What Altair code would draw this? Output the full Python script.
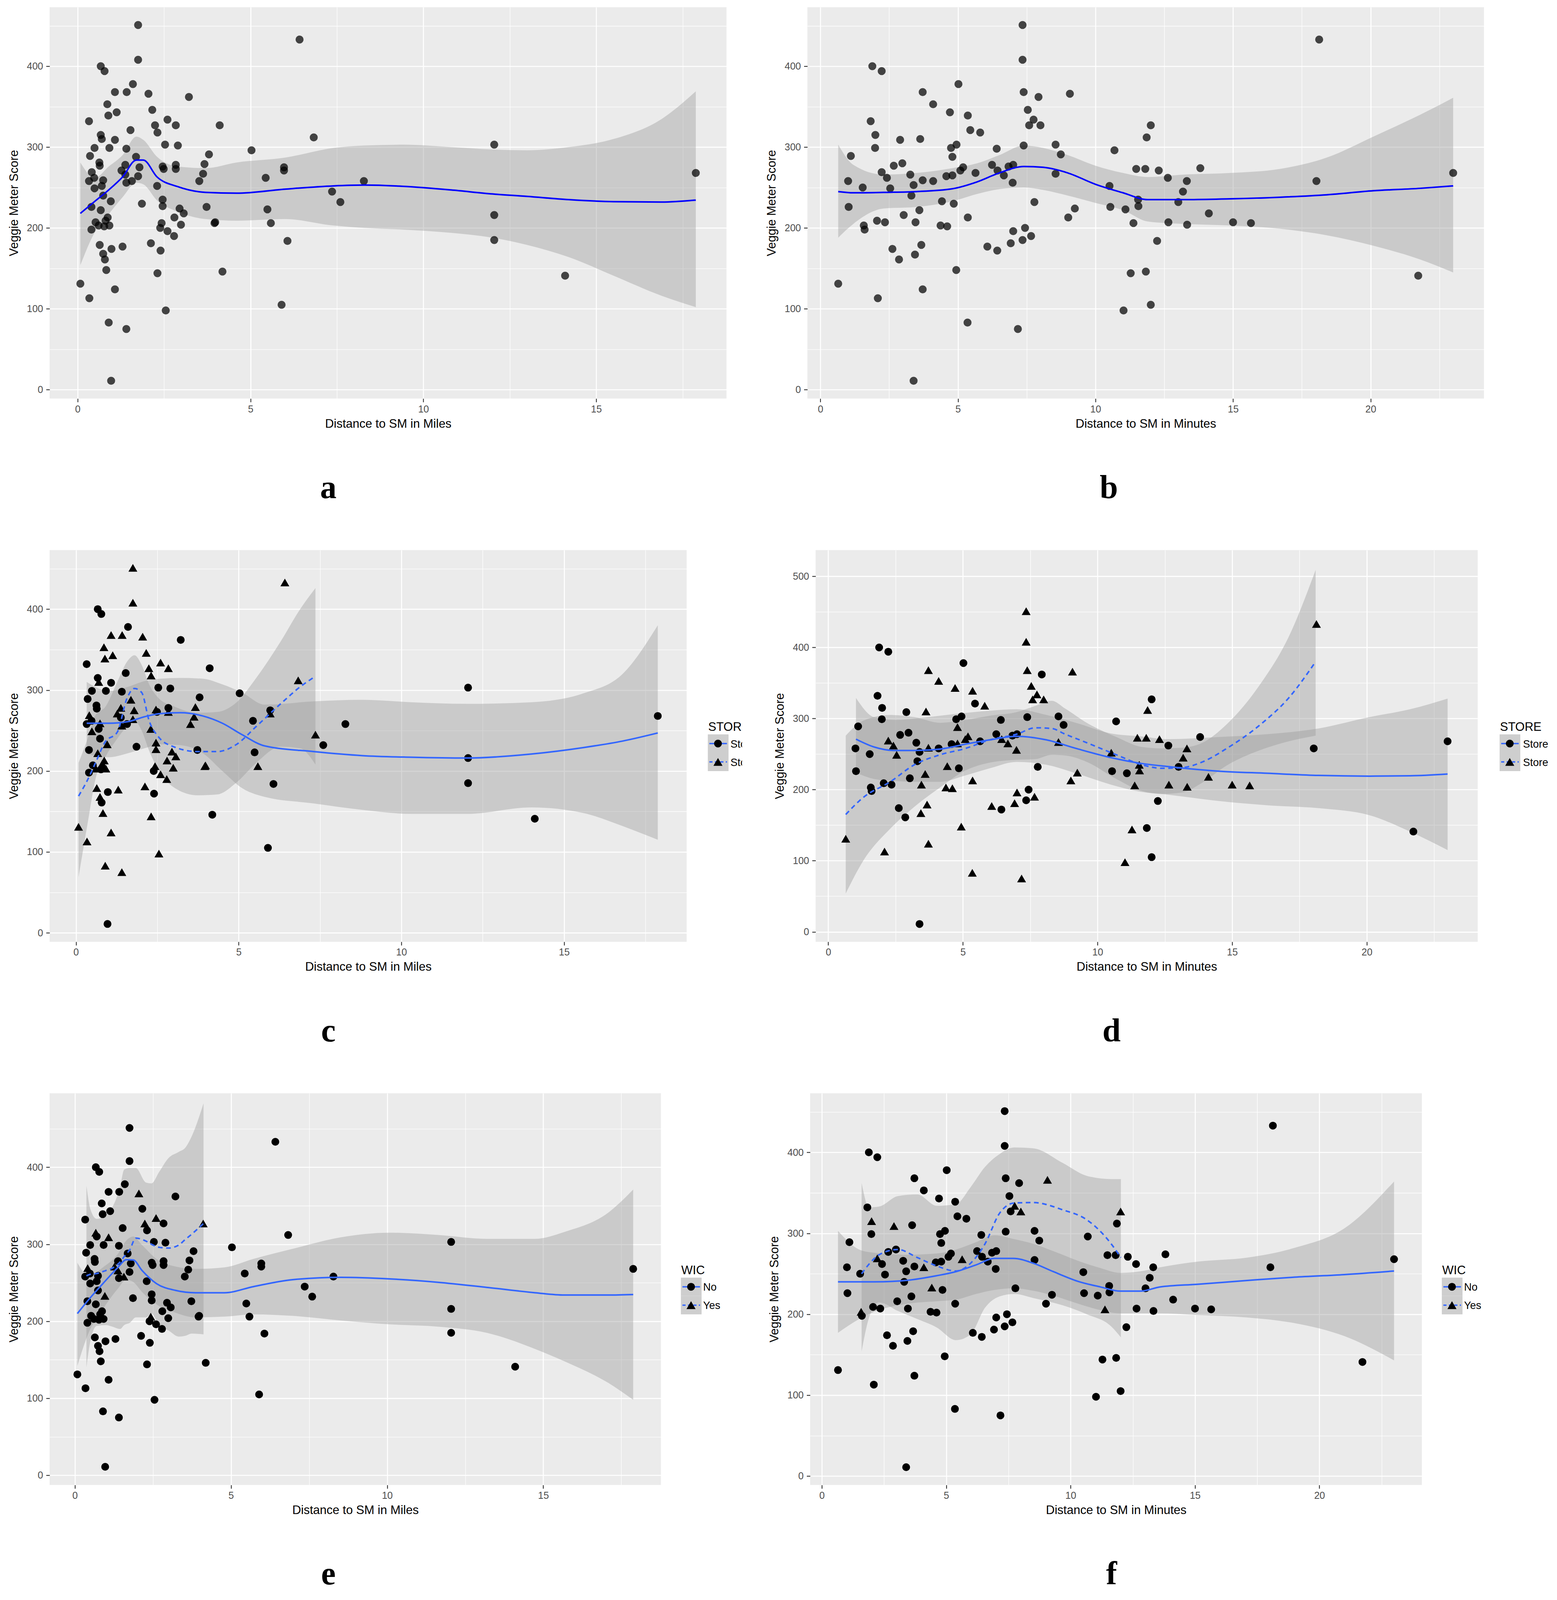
import altair as alt
import pandas as pd

FONT = "Liberation Sans"
SERIF = "Liberation Serif"
BLUE_AB = "#0000FF"
BLUE = "#3366FF"

# ---------------- points: distance in miles ----------------
miles = [1.75, 6.42, 1.75, 0.67, 0.78, 1.60, 1.08, 1.42, 2.05, 3.22,
         0.86, 2.16, 1.13, 0.89, 0.33, 2.60, 2.24, 2.84, 4.11, 1.53,
         2.31, 0.67, 0.70, 1.08, 6.83, 12.05, 2.53, 2.90, 0.49, 0.92,
         1.41, 5.03, 0.36, 3.80, 1.69, 0.63, 0.64, 1.38, 1.79, 2.46,
         2.84, 3.67, 5.97, 5.97, 2.49, 2.84, 0.41, 1.27, 17.88, 3.63,
         1.38, 1.75, 0.48, 5.44, 0.33, 0.74, 1.41, 1.57, 3.52, 8.28,
         0.49, 0.70, 2.30, 0.74, 7.36, 0.40, 0.96, 1.86, 2.46, 2.46,
         3.73, 7.60, 0.67, 2.95, 5.49, 3.07, 12.05, 0.87, 2.80, 0.81,
         0.52, 3.98, 3.96, 5.59, 2.43, 0.61, 0.92, 0.77, 2.99, 2.39,
         0.40, 2.60, 2.79, 6.07, 12.05, 2.12, 0.64, 1.30, 0.98, 2.40,
         0.74, 0.79, 0.83, 4.19, 2.31, 14.10, 0.08, 1.08, 0.34, 5.90,
         2.55, 0.90, 1.41, 0.97]
miles_score = [451, 433, 408, 400, 394, 378, 368, 368, 366, 362,
               353, 346, 343, 339, 332, 334, 327, 327, 327, 321,
               318, 315, 310, 309, 312, 303, 303, 302, 299, 299,
               298, 296, 289, 291, 288, 281, 277, 278, 275, 276,
               278, 279, 275, 271, 273, 273, 269, 271, 268, 267,
               266, 264, 262, 262, 258, 259, 256, 258, 258, 258,
               249, 252, 252, 240, 245, 226, 233, 230, 235, 227,
               226, 232, 222, 224, 223, 218, 216, 213, 213, 209,
               207, 207, 206, 206, 206, 203, 203, 202, 204, 200,
               198, 196, 190, 184, 185, 181, 179, 177, 174, 172,
               168, 161, 148, 146, 144, 141, 131, 124, 113, 105,
               98, 83, 75, 11]
# C = first store (circle), T = second store (triangle)
miles_store = list("TTTCCCTTTC" "TTTTCTTTCC" "TCTCTCCCCC" "CCCCTCCTTT"
                   "CTCTCTTTCT" "CTCCCTTCTC" "TCTCTCTCTT" "CCTTCTCTTT"
                   "CTTTTTTCTC" "CTTCCTTTCC" "TCTCTCTTTC" "TTTC")
# N = WIC No (circle), Y = WIC Yes (triangle)
miles_wic = list("NNNNNNNNYN" "NNNNNYYNYN" "NYNYNNNNNN" "NNNNNNNNNN"
                 "NNNNNNYYNN" "YNNNNNNYNN" "NNNNNNYNNN" "NNNNNNNNNN"
                 "NNNNYNNNNN" "NNNNNNNNNN" "NNNNNNNNNN" "NNNN")

# ---------------- points: distance in minutes ----------------
minutes = [7.35, 18.13, 7.35, 1.89, 2.23, 5.02, 3.72, 7.39, 9.07, 7.93,
           4.10, 7.54, 4.71, 5.36, 1.83, 7.75, 7.59, 8.00, 12.01, 5.45,
           5.81, 2.00, 3.63, 2.90, 11.86, 8.55, 4.95, 7.39, 1.99, 4.75,
           6.41, 10.69, 1.11, 8.74, 4.80, 2.98, 2.67, 6.24, 7.01, 6.84,
           5.19, 13.81, 11.48, 11.81, 12.30, 5.09, 2.23, 6.44, 23.00, 5.64,
           3.27, 8.55, 6.67, 4.80, 4.58, 2.42, 12.63, 1.01, 3.72, 4.10,
           13.32, 18.03, 6.99, 3.39, 10.51, 1.54, 2.54, 13.18, 3.31, 11.55,
           4.42, 7.78, 13.01, 4.85, 11.56, 1.03, 10.54, 9.25, 3.60, 11.09,
           14.12, 3.03, 5.36, 9.01, 2.06, 2.35, 3.46, 15.00, 12.65, 11.38,
           15.65, 1.58, 4.37, 4.61, 13.33, 7.44, 1.61, 7.01, 7.66, 7.35,
           12.24, 6.92, 3.67, 6.07, 2.62, 6.43, 3.44, 2.86, 4.94, 11.83,
           11.28, 21.73, 0.65, 3.72, 2.09, 12.01, 11.02, 5.35, 7.18, 3.39]
minutes_score = [451, 433, 408, 400, 394, 378, 368, 368, 366, 362,
                 353, 346, 343, 339, 332, 334, 327, 327, 327, 321,
                 318, 315, 310, 309, 312, 303, 303, 302, 299, 299,
                 298, 296, 289, 291, 288, 280, 277, 278, 278, 276,
                 275, 274, 273, 273, 271, 271, 269, 271, 268, 268,
                 266, 267, 265, 265, 264, 262, 262, 258, 259, 258,
                 258, 258, 256, 253, 252, 250, 249, 245, 240, 235,
                 233, 232, 232, 230, 227, 226, 226, 224, 222, 223,
                 218, 216, 213, 213, 209, 207, 207, 207, 207, 206,
                 206, 203, 203, 202, 204, 200, 198, 196, 190, 185,
                 184, 181, 179, 177, 174, 172, 167, 161, 148, 146,
                 144, 141, 131, 124, 113, 105, 98, 83, 75, 11]
minutes_store = list("TTTCCCTTTC" "TTTTCTTTCC" "TCTCTCCCCC" "CCCCTCCCCC"
                     "TCTTTTTTCC" "CTTTCTCCTC" "TCTCTCTTCT" "TCCCTCCTTC"
                     "TCTTCCTTTT" "TCTTTCCTTC" "CTTTCCTCTC" "TCTTTCTTTC")
minutes_wic = list("NNNNNNNNYN" "NNNNNYNYYN" "NYNYNNNNNN" "NNNNNNNNNN"
                   "NNNNNNYNNY" "NNNNNNNNNY" "NNNNNNNNNN" "YNNNNNNNNN"
                   "NNNNNNNNNY" "NYNNNNNNNN" "NNNNNNNNNN" "NNNNNNNNNN")

# ---------------- smoothers (fit, lower, upper) ----------------
a_x = [0.08, 0.5, 0.9, 1.3, 1.7, 1.9, 2.3, 2.9, 3.7, 4.6, 6.0, 7.4, 8.3, 9.4, 10.8, 12.0, 13.0, 14.2, 15.5, 16.9, 17.88]
a_fit = [218, 233, 247, 263, 284, 284, 263, 251, 244, 243, 248, 252, 253, 251.5, 247, 242, 239, 235, 232.5, 232, 234.5]
a_hi = [281, 262, 276, 290, 313, 309, 288, 276, 274, 281, 287, 299, 302, 303, 300, 297, 296, 300, 310, 335, 369]
a_lo = [154, 195, 217, 238, 256, 254, 234, 220, 211, 209, 211, 203, 200, 198, 194, 188, 179, 164, 141, 116, 102]

b_x = [0.65, 1.2, 2.3, 3.5, 4.8, 5.7, 6.5, 7.4, 8.1, 9.0, 10.0, 11.0, 11.9, 13.2, 14.9, 16.7, 18.4, 20.1, 21.8, 23.0]
b_fit = [245, 243.5, 244, 245, 248.5, 257, 268, 276, 275, 268, 254, 243.5, 235, 235, 236, 238, 241, 246, 249, 252]
b_hi = [303, 278, 266, 268, 274, 280, 290, 302, 299, 290, 277, 268, 263, 266, 268, 273, 287, 313, 340, 361]
b_lo = [188, 205, 224, 226, 233, 242, 248, 250, 247, 240, 231, 222, 208, 205, 203, 199, 191, 178, 161, 145]

c1_x = [0.33, 1.0, 1.6, 2.1, 2.6, 3.2, 3.9, 4.5, 5.1, 5.8, 7.3, 8.8, 10.3, 12.0, 14.0, 15.6, 16.8, 17.88]
c1_fit = [259, 259, 261, 267, 271, 272, 268, 259, 245, 231, 224, 219, 217, 216, 221, 229, 237, 247]
c1_hi = [310, 299, 304, 311, 314, 315, 314, 307, 297, 282, 286, 288, 285, 283, 285, 296, 320, 380]
c1_lo = [221, 217, 222, 228, 233, 232, 222, 200, 179, 168, 160, 152, 147, 147, 155, 148, 132, 115]

c2_x = [0.08, 0.37, 0.6, 0.9, 1.27, 1.57, 1.8, 2.02, 2.25, 2.54, 3.0, 3.74, 4.34, 4.94, 5.54, 6.29, 6.89, 7.36]
c2_fit = [169, 190, 210, 236, 248, 290, 302, 297, 262, 242, 230, 224, 224, 233, 255, 283, 304, 317]
c2_hi = [210, 241, 269, 279, 310, 335, 343, 331, 307, 290, 280, 272, 273, 285, 315, 360, 400, 426]
c2_lo = [69, 138, 190, 217, 240, 255, 262, 250, 225, 201, 180, 170, 171, 186, 210, 230, 228, 208]

d1_x = [1.03, 1.7, 2.5, 3.2, 4.15, 5.1, 6.0, 7.0, 8.1, 9.2, 10.5, 11.6, 12.6, 14.5, 16.3, 18.2, 20.1, 21.6, 23.0]
d1_fit = [271, 260, 255, 255, 257, 264, 270, 275, 270, 258, 245, 237, 232.5, 226, 223, 220, 219, 219.5, 222]
d1_hi = [329, 302, 298, 300, 304, 308, 311, 313, 305, 294, 279, 275, 271, 274, 278, 286, 302, 313, 328]
d1_lo = [224, 215, 212, 211, 211, 220, 230, 239, 235, 223, 207, 197, 193, 184, 178, 174, 164, 141, 115]

d2_x = [0.65, 1.3, 2.3, 3.2, 4.15, 5.1, 6.0, 7.0, 7.7, 8.3, 8.8, 9.6, 10.7, 11.65, 12.4, 13.15, 13.9, 14.8, 16.0, 17.1, 18.1]
d2_fit = [165, 189, 211, 235, 249, 258, 270, 278, 287, 286, 278, 266, 249, 235, 230, 231, 239, 258, 290, 329, 380]
d2_hi = [276, 297, 305, 302, 294, 298, 304, 309, 318, 325, 314, 294, 274, 260, 258, 259, 266, 292, 346, 415, 509]
d2_lo = [54, 100, 145, 176, 203, 227, 238, 242, 243, 249, 248, 239, 215, 198, 194, 196, 210, 234, 255, 268, 276]

e1_x = [0.08, 0.44, 0.9, 1.37, 1.65, 1.87, 2.15, 2.61, 3.23, 3.86, 4.79, 5.72, 6.97, 8.52, 10.08, 11.63, 13.19, 14.74, 15.68, 17.08, 17.88]
e1_fit = [210, 228, 249, 269.5, 280, 279.6, 266, 249, 240, 237, 237, 245, 254, 257, 255, 250.6, 244, 237, 234, 234, 234.7]
e1_hi = [276, 259, 270, 287, 305, 310, 299, 281, 271, 268, 270, 281, 294, 309, 315, 312, 307, 307, 316, 341, 371]
e1_lo = [142, 185, 216, 242, 254, 251, 238, 222, 211, 205, 206, 209, 207, 201, 196, 193, 185, 164, 148, 120, 98]

e2_x = [0.37, 0.5, 0.7, 1.0, 1.2, 1.45, 1.58, 1.76, 1.95, 2.28, 2.45, 2.7, 3.0, 3.33, 3.53, 3.74, 4.12]
e2_fit = [259, 261, 262, 266, 269, 277, 284, 293, 308, 304, 300, 296, 295, 299, 306, 313, 327]
e2_hi = [376, 345, 333, 338, 348, 375, 397, 399, 399, 380, 379, 394, 412, 420, 425, 440, 483]
e2_lo = [140, 175, 194, 195, 193, 190, 195, 198, 205, 205, 210, 195, 188, 180, 181, 184, 183]

f1_x = [0.65, 1.5, 2.1, 3.45, 4.6, 5.4, 6.2, 6.95, 7.7, 8.5, 9.3, 10.3, 11.2, 12.0, 12.8, 13.6, 15.1, 17.1, 19.0, 21.0, 23.0]
f1_fit = [240, 240, 240, 242, 247.5, 252.7, 261, 269, 269, 263, 252.7, 240.6, 233.7, 228.5, 228.5, 233.7, 237, 241.7, 245.8, 249, 253.4]
f1_hi = [303, 280, 276, 273.5, 275, 280, 289, 297.6, 293, 287, 278, 266, 257, 251, 253, 258, 265, 270, 282, 306, 364]
f1_lo = [177, 194, 203, 213, 216, 218, 225, 230, 232, 229, 223, 213, 205, 201, 201, 201, 199, 196, 189, 173, 143]

f2_x = [1.6, 1.9, 2.3, 3.06, 3.84, 4.62, 5.39, 5.98, 6.56, 7.15, 7.73, 8.5, 9.68, 10.65, 11.63, 12.02]
f2_fit = [250, 262, 273.5, 280, 270, 259.6, 253.4, 263, 287, 325, 337.4, 338, 329, 316.7, 287, 270]
f2_hi = [362, 332, 333, 346, 348, 334, 336, 357, 382, 398, 406, 405, 387, 371, 367, 367]
f2_lo = [154, 196, 214.7, 204, 194, 183.6, 168, 175, 208, 222, 225, 220, 211, 200, 185, 171.5]

# axis tick lists (major + minor)
miles_ticks = [0, 2.5, 5, 7.5, 10, 12.5, 15, 17.5]
minutes_ticks = [0, 2.5, 5, 7.5, 10, 12.5, 15, 17.5, 20, 22.5]
score_ticks = [0, 50, 100, 150, 200, 250, 300, 350, 400, 450]
score_ticks_d = [0, 50, 100, 150, 200, 250, 300, 350, 400, 450, 500]

MILES_DOM = [-0.81, 18.77]
MIN_DOM = [-0.47, 24.12]

H1 = 1002   # plot height, top row
H2 = 1003   # plot height, middle and bottom rows


def make_axis(title, values, major):
    test = f"datum.value % {major} === 0"
    return alt.Axis(
        title=title, values=values, labelExpr=f"{test} ? datum.label : ''",
        tickOpacity={"condition": {"test": test, "value": 1}, "value": 0},
        gridWidth={"condition": {"test": test, "value": 2.6}, "value": 1.3},
        labelOverlap=False, labelFlush=False,
    )


def make_panel(px, py, pg, codes, xdom, xticks, xtitle, ydom, yticks, curves, line_color,
               pt_opacity, grouped, w, h, letter, ldx):
    pts = pd.DataFrame({"x": px, "y": py, "g": pg})
    xs = alt.Scale(domain=xdom, nice=False, zero=False)
    ys = alt.Scale(domain=ydom, nice=False, zero=False)
    xa = make_axis(xtitle, xticks, 5)
    ya = make_axis("Veggie Meter Score", yticks, 100)
    X = alt.X("x:Q", scale=xs, axis=xa)
    layers = []
    for cx, cfit, clo, chi, dashed in curves:
        df = pd.DataFrame({"x": cx, "fit": cfit, "lo": clo, "hi": chi})
        layers.append(alt.Chart(df).mark_area(color="#999999", opacity=0.4, interpolate="monotone")
                      .encode(x=X, y=alt.Y("lo:Q", scale=ys, axis=ya), y2="hi:Q"))
    if grouped:
        for code, shape, size in [(codes[0], "circle", 400), (codes[1], "triangle-up", 520)]:
            layers.append(alt.Chart(pts).transform_filter(alt.datum.g == code)
                          .mark_point(filled=True, shape=shape, size=size, color="black",
                                      opacity=pt_opacity, strokeWidth=0)
                          .encode(x=X, y=alt.Y("y:Q", scale=ys, axis=ya)))
    else:
        layers.append(alt.Chart(pts).mark_point(filled=True, shape="circle", size=420, color="black",
                                                opacity=pt_opacity, strokeWidth=0)
                      .encode(x=X, y=alt.Y("y:Q", scale=ys, axis=ya)))
    for cx, cfit, clo, chi, dashed in curves:
        df = pd.DataFrame({"x": cx, "fit": cfit, "lo": clo, "hi": chi})
        if dashed:
            mk = alt.Chart(df).mark_line(color=line_color, strokeWidth=4, strokeDash=[12, 9], interpolate="monotone")
        else:
            mk = alt.Chart(df).mark_line(color=line_color, strokeWidth=4, interpolate="monotone")
        layers.append(mk.encode(x=X, y=alt.Y("fit:Q", scale=ys, axis=ya)))
    return alt.layer(*layers).properties(
        width=w, height=h,
        title=alt.TitleParams(text=letter, orient="bottom", anchor="start", align="center",
                              frame="group", dx=ldx, offset=175, baseline="alphabetic",
                              font=SERIF, fontWeight="bold", fontSize=84, color="black"),
    )


def make_legend(title, labels, w, h, label_x):
    one = pd.DataFrame({"v": [0]})
    L = [alt.Chart(one).mark_rect(opacity=0)
         .encode(x=alt.value(0), x2=alt.value(w), y=alt.value(0), y2=alt.value(h)),
         alt.Chart(one).mark_text(text=title, align="left", baseline="alphabetic", font=FONT,
                                  fontSize=31, color="black", clip=True)
         .encode(x=alt.value(1), y=alt.value(463))]
    for i, lab in enumerate(labels):
        top = 472 + 47 * i
        mid = top + 23.5
        L.append(alt.Chart(one).mark_rect(color="#CECECE")
                 .encode(x=alt.value(0), x2=alt.value(53), y=alt.value(top), y2=alt.value(top + 47)))
        if i == 0:
            rule = alt.Chart(one).mark_rule(color=BLUE, strokeWidth=3.5)
        else:
            rule = alt.Chart(one).mark_rule(color=BLUE, strokeWidth=3.5, strokeDash=[8, 6])
        L.append(rule.encode(x=alt.value(4), x2=alt.value(49), y=alt.value(mid)))
        shape, size = ("circle", 400) if i == 0 else ("triangle-up", 540)
        L.append(alt.Chart(one).mark_point(filled=True, shape=shape, size=size, color="black",
                                           opacity=1, strokeWidth=0)
                 .encode(x=alt.value(26), y=alt.value(mid)))
        L.append(alt.Chart(one).mark_text(text=lab, align="left", baseline="middle", font=FONT,
                                          fontSize=27, color="black", clip=True)
                 .encode(x=alt.value(label_x), y=alt.value(mid + 2)))
    return alt.layer(*L).properties(width=w, height=h,
                                    view=alt.ViewBackground(fill="white", stroke=None))


def spacer(w, h):
    one = pd.DataFrame({"v": [0]})
    return alt.Chart(one).mark_rect(opacity=0).encode(
        x=alt.value(0), x2=alt.value(w), y=alt.value(0), y2=alt.value(h)
    ).properties(width=w, height=h, view=alt.ViewBackground(fill="white", stroke=None))


pa = make_panel(miles, miles_score, miles_store, ("C", "T"), MILES_DOM, miles_ticks, "Distance to SM in Miles",
                [-11, 473], score_ticks, [(a_x, a_fit, a_lo, a_hi, False)], BLUE_AB, 0.72, False,
                1734, H1, "a", 714)
pb = make_panel(minutes, minutes_score, minutes_store, ("C", "T"), MIN_DOM, minutes_ticks, "Distance to SM in Minutes",
                [-11, 473], score_ticks, [(b_x, b_fit, b_lo, b_hi, False)], BLUE_AB, 0.72, False,
                1733, H1, "b", 772)
pc = make_panel(miles, miles_score, miles_store, ("C", "T"), MILES_DOM, miles_ticks, "Distance to SM in Miles",
                [-11, 473], score_ticks,
                [(c1_x, c1_fit, c1_lo, c1_hi, False), (c2_x, c2_fit, c2_lo, c2_hi, True)],
                BLUE, 1.0, True, 1632, H2, "c", 714)
pdd = make_panel(minutes, minutes_score, minutes_store, ("C", "T"), MIN_DOM, minutes_ticks, "Distance to SM in Minutes",
                 [-14, 537], score_ticks_d,
                 [(d1_x, d1_fit, d1_lo, d1_hi, False), (d2_x, d2_fit, d2_lo, d2_hi, True)],
                 BLUE, 1.0, True, 1696, H2, "d", 758)
pe = make_panel(miles, miles_score, miles_wic, ("N", "Y"), MILES_DOM, miles_ticks, "Distance to SM in Miles",
                [-12.6, 496], score_ticks,
                [(e1_x, e1_fit, e1_lo, e1_hi, False), (e2_x, e2_fit, e2_lo, e2_hi, True)],
                BLUE, 1.0, True, 1566, H2, "e", 714)
pf = make_panel(minutes, minutes_score, minutes_wic, ("N", "Y"), MIN_DOM, minutes_ticks, "Distance to SM in Minutes",
                [-11, 473], score_ticks,
                [(f1_x, f1_fit, f1_lo, f1_hi, False), (f2_x, f2_fit, f2_lo, f2_hi, True)],
                BLUE, 1.0, True, 1567, H2, "f", 772)

lc = make_legend("STORE", ["Store", "Store"], 88, H2, 58)
ld = make_legend("STORE", ["Store", "Store"], 139, H2, 60)
le = make_legend("WIC", ["No", "Yes"], 150, H2, 57)
lf = make_legend("WIC", ["No", "Yes"], 150, H2, 57)

row1 = alt.hconcat(pa, spacer(100, H1), pb, spacing=0).resolve_scale(
    x="independent", y="independent")
row2 = alt.hconcat(pc, spacer(54, H2), lc, spacer(81, H2), pdd, spacer(56, H2), ld,
                   spacing=0).resolve_scale(x="independent", y="independent")
row3 = alt.hconcat(pe, spacer(51, H2), le, spacer(74, H2), pf, spacer(51, H2), lf,
                   spacing=0).resolve_scale(x="independent", y="independent")

chart = alt.vconcat(row1, row2, row3, spacing=116).resolve_scale(
    x="independent", y="independent"
).properties(
    padding={"left": 12, "top": 10, "right": 0, "bottom": 0}, background="white"
).configure_view(
    fill="#EBEBEB", stroke=None
).configure_axis(
    domain=False, grid=True, gridColor="white", tickColor="#333333", tickSize=9, tickWidth=2.2,
    labelColor="#4D4D4D", labelFont=FONT, labelFontSize=25, titleFont=FONT, titleFontSize=31,
    titleFontWeight="normal", titleColor="black", labelPadding=6
).configure_axisY(
    titlePadding=16, labelPadding=8
).configure_axisX(
    titlePadding=10
)

chart.save("out.html", embed_options={"renderer": "svg", "actions": False})
